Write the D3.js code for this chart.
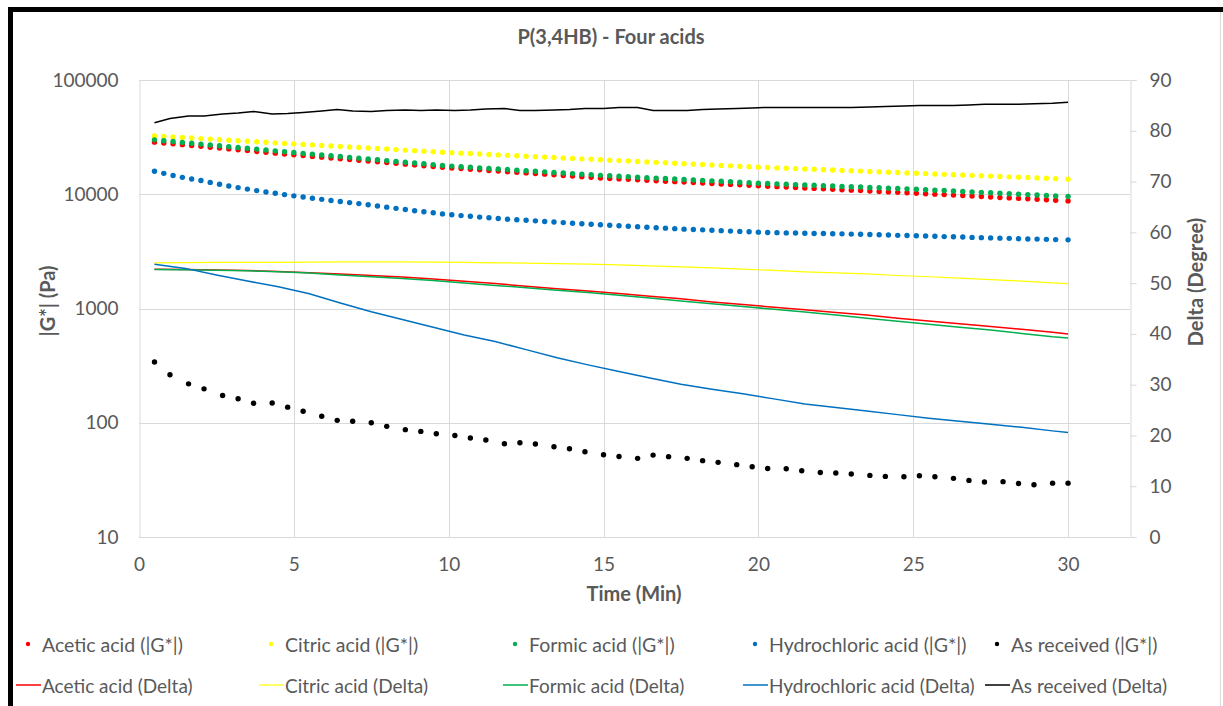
<!DOCTYPE html>
<html>
<head>
<meta charset="utf-8">
<script src="https://cdn.jsdelivr.net/npm/d3@7"></script>
<style>
  body { margin: 0; background: #ffffff; }
  svg text { font-family: Lato, "Open Sans", sans-serif; fill: #595959; }
</style>
</head>
<body>
<svg id="chart" width="1223" height="706"></svg>
<script>
// Sampling times (min)
const timeAcid = [0.5,0.8,1.1,1.4,1.7,2.0,2.3,2.6,2.9,3.2,
  3.5,3.8,4.1,4.4,4.7,5.0,5.3,5.6,5.9,6.2,
  6.5,6.8,7.1,7.4,7.7,8.0,8.3,8.6,8.9,9.2,
  9.5,9.8,10.1,10.4,10.7,11.0,11.3,11.6,11.9,12.2,
  12.5,12.8,13.1,13.4,13.7,14.0,14.3,14.6,14.9,15.2,
  15.5,15.8,16.1,16.4,16.7,17.0,17.3,17.6,17.9,18.2,
  18.5,18.8,19.1,19.4,19.7,20.0,20.3,20.6,20.9,21.2,
  21.5,21.8,22.1,22.4,22.7,23.0,23.3,23.6,23.9,24.2,
  24.5,24.8,25.1,25.4,25.7,26.0,26.3,26.6,26.9,27.2,
  27.5,27.8,28.1,28.4,28.7,29.0,29.3,29.6,30.0];
const timeRecv = [0.5,1.0,1.6,2.1,2.7,3.2,3.7,4.3,4.8,5.3,
  5.9,6.4,6.9,7.5,8.0,8.6,9.1,9.6,10.2,10.7,
  11.2,11.8,12.3,12.8,13.4,13.9,14.4,15.0,15.5,16.1,
  16.6,17.1,17.7,18.2,18.7,19.3,19.8,20.3,20.9,21.4,
  22.0,22.5,23.0,23.6,24.1,24.7,25.2,25.7,26.3,26.8,
  27.3,27.9,28.4,28.9,29.5,30.0];
const timeDelta = [0.5,1.5,2.5,3.5,4.5,5.5,6.5,7.5,8.5,9.5,
  10.5,11.5,12.5,13.5,14.5,15.5,16.5,17.5,18.5,19.5,
  20.5,21.5,22.5,23.5,24.5,25.5,26.5,27.5,28.5,29.5,30.0];

// |G*| (Pa)
const aceticG = [28580,28100,27620,27160,26700,26250,25800,25370,24940,24520,
  24100,23700,23300,22900,22520,22130,21790,21450,21120,20790,
  20470,20150,19840,19530,19230,18930,18640,18350,18060,17780,
  17510,17240,16990,16780,16570,16360,16160,15960,15760,15560,
  15370,15180,14990,14800,14610,14430,14250,14070,13870,13750,
  13620,13500,13370,13250,13130,13010,12890,12770,12650,12540,
  12420,12310,12190,12080,11970,11860,11760,11650,11550,11450,
  11350,11250,11150,11050,10950,10860,10760,10670,10570,10480,
  10390,10300,10210,10110,10020,9930,9830,9740,9650,9560,
  9470,9380,9290,9200,9120,9030,8950,8870,8750];
const citricG = [32400,32050,31710,31370,31040,30700,30380,30050,29730,29420,
  29100,28790,28490,28180,27880,27610,27320,27040,26750,26470,
  26200,25920,25650,25390,25120,24860,24600,24340,24090,23840,
  23590,23340,23110,22900,22700,22500,22300,22100,21910,21720,
  21530,21340,21150,20960,20780,20600,20420,20240,20060,19880,
  19710,19530,19360,19190,19020,18860,18690,18530,18360,18200,
  18040,17880,17730,17570,17420,17260,17140,17010,16890,16770,
  16650,16530,16410,16290,16170,16060,15940,15830,15710,15600,
  15490,15380,15270,15160,15050,14940,14830,14720,14620,14510,
  14410,14300,14200,14100,14000,13900,13800,13700,13550];
const formicG = [29920,29420,28920,28430,27950,27480,27020,26560,26110,25670,
  25240,24810,24390,23980,23580,23170,22800,22430,22070,21720,
  21370,21030,20690,20360,20030,19710,19390,19080,18770,18470,
  18170,17880,17630,17430,17230,17030,16830,16640,16450,16260,
  16070,15880,15700,15520,15340,15160,14990,14810,14640,14500,
  14370,14240,14110,13980,13850,13720,13590,13470,13340,13220,
  13100,12980,12860,12740,12620,12500,12410,12320,12240,12150,
  12060,11980,11890,11810,11720,11640,11560,11470,11390,11310,
  11230,11150,11060,10960,10860,10770,10670,10580,10480,10390,
  10300,10200,10110,10020,9930,9840,9750,9670,9550];
const hclG = [15920,15240,14590,14060,13580,13180,12700,12250,11800,11430,
  11090,10760,10470,10210,9930,9680,9460,9230,9020,8810,
  8630,8450,8280,8090,7890,7710,7530,7360,7180,7030,
  6890,6730,6610,6500,6410,6310,6220,6140,6050,5980,
  5920,5850,5780,5710,5650,5580,5520,5470,5410,5360,
  5300,5250,5200,5150,5090,5050,5000,4950,4910,4880,
  4840,4800,4760,4730,4690,4660,4630,4610,4590,4580,
  4560,4540,4530,4510,4500,4480,4460,4440,4420,4400,
  4370,4350,4330,4310,4290,4260,4240,4220,4190,4170,
  4150,4130,4110,4080,4060,4050,4030,4010,3990];
const recvG = [340,263,219,198,173,162,148,149,137,126,
  114,105,103,100,93,87,84,80,77.4,73.5,
  70.6,65.5,66.8,65.2,61.7,59.3,55.7,52.5,50.7,48.8,
  52.1,50.5,48.8,46.6,45.0,43.0,41.2,39.8,39.6,38.0,
  36.7,36.3,35.6,34.6,33.9,33.7,34.4,33.7,32.6,31.3,
  30.3,30.5,29.4,28.7,29.6,29.6];

// Delta (degree)
const aceticDelta = [52.75,52.7,52.6,52.5,52.3,52.05,51.8,51.5,51.2,50.8,
  50.35,49.9,49.4,48.9,48.45,47.95,47.4,46.9,46.3,45.8,
  45.25,44.75,44.2,43.7,43.1,42.55,42.0,41.45,40.9,40.3,40.0];
const citricDelta = [54.0,54.05,54.1,54.1,54.1,54.15,54.2,54.2,54.2,54.15,
  54.1,54.0,53.95,53.85,53.75,53.6,53.4,53.2,53.0,52.75,
  52.5,52.2,52.0,51.8,51.5,51.25,51.0,50.7,50.4,50.05,49.9];
const formicDelta = [52.7,52.65,52.55,52.45,52.25,52.0,51.6,51.25,50.9,50.5,
  50.0,49.55,49.1,48.6,48.15,47.6,47.05,46.5,45.95,45.4,
  44.85,44.3,43.7,43.1,42.5,41.9,41.3,40.75,40.1,39.45,39.2];
const hclDelta = [53.7,52.9,51.6,50.4,49.3,47.9,46.1,44.35,42.85,41.3,
  39.8,38.5,36.9,35.3,33.9,32.6,31.3,30.1,29.1,28.2,
  27.2,26.2,25.5,24.8,24.1,23.4,22.8,22.2,21.6,20.9,20.6];
const recvDelta = [81.6,82.4,82.9,82.9,83.3,83.5,83.8,83.3,83.4,83.6,
  83.9,84.2,83.9,83.8,84.0,84.1,84.0,84.1,84.0,84.1,
  84.3,84.4,84.0,84.0,84.1,84.2,84.4,84.4,84.6,84.6,
  84.0,84.0,84.0,84.2,84.3,84.4,84.5,84.6,84.6,84.6,
  84.6,84.6,84.6,84.7,84.8,84.9,85.0,85.0,85.0,85.1,
  85.2,85.2,85.2,85.3,85.4,85.6];

// Axis ticks
const xTicks = [0, 5, 10, 15, 20, 25, 30];
const gTicks = [10, 100, 1000, 10000, 100000];
const deltaTicks = [0, 10, 20, 30, 40, 50, 60, 70, 80, 90];

const names = ["Acetic acid", "Citric acid", "Formic acid", "Hydrochloric acid", "As received"];
const colors = ["#ff0000", "#ffff00", "#00b050", "#0070c0", "#000000"];

const gSeries = [
  { name: names[0], color: colors[0], t: timeAcid, v: aceticG },
  { name: names[1], color: colors[1], t: timeAcid, v: citricG },
  { name: names[2], color: colors[2], t: timeAcid, v: formicG },
  { name: names[3], color: colors[3], t: timeAcid, v: hclG },
  { name: names[4], color: colors[4], t: timeRecv, v: recvG }
];
const dSeries = [
  { name: names[0], color: colors[0], t: timeDelta, v: aceticDelta },
  { name: names[1], color: colors[1], t: timeDelta, v: citricDelta },
  { name: names[2], color: colors[2], t: timeDelta, v: formicDelta },
  { name: names[3], color: colors[3], t: timeDelta, v: hclDelta },
  { name: names[4], color: colors[4], t: timeRecv, v: recvDelta }
];

const svg = d3.select("#chart");
const plot = { left: 139, right: 1130, top: 80, bottom: 537 };

const x = d3.scaleLinear().domain([0, 32]).range([plot.left, plot.right]);
const yG = d3.scaleLog().domain([10, 100000]).range([plot.bottom, plot.top]);
const yD = d3.scaleLinear().domain([0, 90]).range([plot.bottom, plot.top]);

// Outer frame
svg.append("rect").attr("x", 0).attr("y", 0).attr("width", 1223).attr("height", 706).attr("fill", "#fff");
svg.append("line").attr("x1", 1220.5).attr("x2", 1220.5).attr("y1", 12).attr("y2", 706)
  .attr("stroke", "#d9d9d9").attr("stroke-width", 1);
svg.append("path").attr("d", "M10.5,706V9.5H1223")
  .attr("fill", "none").attr("stroke", "#000").attr("stroke-width", 5);

// Grid
const grid = svg.append("g").attr("stroke", "#d9d9d9").attr("stroke-width", 1);
grid.selectAll("line.v").data(xTicks.slice(1)).join("line")
  .attr("x1", d => Math.round(x(d)) + 0.5).attr("x2", d => Math.round(x(d)) + 0.5)
  .attr("y1", plot.top).attr("y2", plot.bottom);
grid.selectAll("line.h").data(gTicks.slice(1)).join("line")
  .attr("x1", plot.left).attr("x2", plot.right)
  .attr("y1", d => Math.round(yG(d)) + 0.5).attr("y2", d => Math.round(yG(d)) + 0.5);

// Axes
const axisLeft = svg.append("g").attr("transform", `translate(${plot.left + 0.5},0)`)
  .call(d3.axisLeft(yG).tickValues(gTicks).tickFormat(d3.format("d")).tickSize(0).tickPadding(21));
const axisBottom = svg.append("g").attr("transform", `translate(0,${plot.bottom + 0.5})`)
  .call(d3.axisBottom(x).tickValues(xTicks).tickFormat(d3.format("d")).tickSize(0).tickPadding(20));
const axisRight = svg.append("g").attr("transform", `translate(${plot.right + 0.5},0)`)
  .call(d3.axisRight(yD).tickValues(deltaTicks).tickSize(6).tickPadding(13));

[axisLeft, axisBottom, axisRight].forEach(a => {
  a.select(".domain").attr("stroke", "#d9d9d9");
  a.selectAll(".tick line").attr("stroke", "#d9d9d9");
  a.selectAll("text").attr("font-size", 19).attr("font-family", "Lato, 'Open Sans', sans-serif").attr("fill", "#595959");
});
axisBottom.select(".domain").attr("d", `M${plot.left},0H${plot.right}`);

// |G*| markers
svg.append("g").selectAll("g").data(gSeries).join("g")
  .attr("fill", d => d.color)
  .selectAll("circle").data(d => d.v.map((v, i) => [d.t[i], v])).join("circle")
  .attr("cx", d => x(d[0])).attr("cy", d => yG(d[1])).attr("r", 2.7);

// Delta lines
const line = d3.line().x(d => x(d[0])).y(d => yD(d[1]));
svg.append("g").selectAll("path").data(dSeries).join("path")
  .attr("fill", "none").attr("stroke", d => d.color)
  .attr("stroke-width", d => d.name === "Citric acid" ? 1.2 : 1.5)
  .attr("d", d => line(d.v.map((v, i) => [d.t[i], v])));

// Titles
svg.append("text").attr("x", 611).attr("y", 36).attr("text-anchor", "middle")
  .attr("dominant-baseline", "central").attr("font-size", 20).attr("font-weight", "bold")
  .text("P(3,4HB) - Four acids");
svg.append("text").attr("x", 634).attr("y", 593).attr("text-anchor", "middle")
  .attr("dominant-baseline", "central").attr("font-size", 20).attr("font-weight", "bold")
  .text("Time (Min)");
svg.append("text").attr("transform", "translate(47,301) rotate(-90)").attr("text-anchor", "middle")
  .attr("dominant-baseline", "central").attr("font-size", 20).attr("font-weight", "bold")
  .text("|G*| (Pa)");
svg.append("text").attr("transform", "translate(1195,282) rotate(-90)").attr("text-anchor", "middle")
  .attr("dominant-baseline", "central").attr("font-size", 20).attr("font-weight", "bold")
  .text("Delta (Degree)");

// Legend
const legendX = [42, 285, 529, 769, 1011];
const legend = svg.append("g");
const row1 = legend.selectAll("g.r1").data(gSeries).join("g")
  .attr("transform", (d, i) => `translate(${legendX[i]},644)`);
row1.append("circle").attr("cx", -14).attr("cy", 0).attr("r", 2.2).attr("fill", d => d.color);
row1.append("text").attr("x", 0).attr("y", 0).attr("dominant-baseline", "central")
  .attr("font-size", 19.5).text(d => `${d.name} (|G*|)`);
const row2 = legend.selectAll("g.r2").data(dSeries).join("g")
  .attr("transform", (d, i) => `translate(${legendX[i]},685)`);
row2.append("line").attr("x1", -26).attr("x2", -1).attr("y1", 0).attr("y2", 0)
  .attr("stroke", d => d.color).attr("stroke-width", d => d.name === "Citric acid" ? 1.2 : 1.5);
row2.append("text").attr("x", 0).attr("y", 0).attr("dominant-baseline", "central")
  .attr("font-size", 19).text(d => `${d.name} (Delta)`);
</script>
</body>
</html>
